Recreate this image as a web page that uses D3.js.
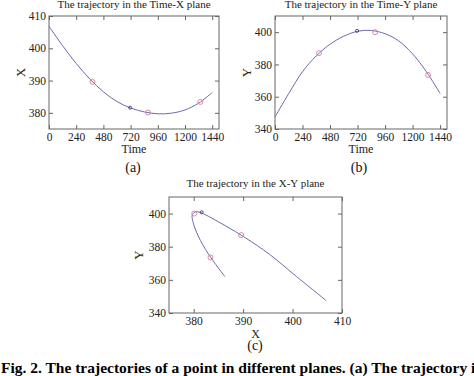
<!DOCTYPE html>
<meta charset="utf-8">
<style>
body { margin: 0; background: #fff; }
svg { display: block; font-family: "Liberation Serif", "Times New Roman", serif; }
.frame { fill: none; stroke: #666; stroke-width: 1; }
.axis path { display: none; }
.axis line { stroke: #666; }
.axis text { font-size: 11.5px; fill: #222; font-family: "Liberation Serif", serif; }
.traj { fill: none; stroke: #6a6aae; stroke-width: 1; }
</style>
<svg width="474" height="376"></svg>
<script src="https://cdn.jsdelivr.net/npm/d3@7"></script>
<script>

// sampled trajectory, time in minutes
var times = [0, 120, 240, 360, 480, 600, 720, 840, 960, 1080, 1200, 1320, 1440]
var xVals = [406.8, 400.8, 395.3, 390.5, 386.5, 383.5, 381.5, 380.3, 379.7, 379.9, 380.9, 383.0, 386.3]
var yVals = [347.5, 362.0, 375.5, 385.3, 392.5, 397.5, 400.5, 401.0, 399.0, 394.5, 386.5, 375.5, 362.0]

// marked points along the path
var markT = [384, 716, 873, 1335]
var markX = [389.6, 381.6, 380.1, 383.4]
var markY = [387.0, 400.8, 400.0, 373.5]
var markDark = [false, true, false, false]

var timeTicks = [0, 240, 480, 720, 960, 1200, 1440]
var xTicks = [380, 390, 400, 410]
var yTicksA = [380, 390, 400, 410]
var yTicksB = [340, 360, 380, 400]

var svg = d3.select("svg")

var pts = times.map(function(t, i) { return {t: t, x: xVals[i], y: yVals[i]} })
var marks = markT.map(function(t, i) { return {t: t, x: markX[i], y: markY[i], dark: markDark[i]} })

var panels = [
  {box: [49, 16, 219, 129], xd: [0, 1500], yd: [375, 410], xt: timeTicks, yt: yTicksA,
   fx: "t", fy: "x", title: "The trajectory in the Time-X plane", titleY: 8,
   xlab: "Time", xlabY: 153, ylab: "X", ylabX: 20, sub: "(a)", subX: 133, subY: 172},
  {box: [275, 16, 447, 129], xd: [0, 1500], yd: [340, 410], xt: timeTicks, yt: yTicksB,
   fx: "t", fy: "y", title: "The trajectory in the Time-Y plane", titleY: 8,
   xlab: "Time", xlabY: 153, ylab: "Y", ylabX: 246, sub: "(b)", subX: 359, subY: 172},
  {box: [169, 197, 342, 313], xd: [375, 410], yd: [340, 410], xt: xTicks, yt: yTicksB,
   fx: "x", fy: "y", title: "The trajectory in the X-Y plane", titleY: 187,
   xlab: "X", xlabY: 338, ylab: "Y", ylabX: 138, sub: "(c)", subX: 255, subY: 350}
]

panels.forEach(function(p) {
  var l = p.box[0], t = p.box[1], r = p.box[2], b = p.box[3]
  var x = d3.scaleLinear().domain(p.xd).range([l, r])
  var y = d3.scaleLinear().domain(p.yd).range([b, t])
  var g = svg.append("g")

  g.append("g").attr("class", "axis").attr("transform", "translate(0," + b + ")")
    .call(d3.axisBottom(x).tickValues(p.xt).tickFormat(d3.format("d")).tickSizeInner(-4).tickSizeOuter(0).tickPadding(4))
  g.append("g").attr("class", "axis").attr("transform", "translate(0," + t + ")")
    .call(d3.axisTop(x).tickValues(p.xt).tickSizeInner(-4).tickSizeOuter(0).tickFormat(""))
  g.append("g").attr("class", "axis").attr("transform", "translate(" + l + ",0)")
    .call(d3.axisLeft(y).tickValues(p.yt).tickFormat(d3.format("d")).tickSizeInner(-4).tickSizeOuter(0).tickPadding(3))
  g.append("g").attr("class", "axis").attr("transform", "translate(" + r + ",0)")
    .call(d3.axisRight(y).tickValues(p.yt).tickSizeInner(-4).tickSizeOuter(0).tickFormat(""))

  g.append("rect").attr("class", "frame")
    .attr("x", l).attr("y", t).attr("width", r - l).attr("height", b - t)

  var line = d3.line()
    .x(function(d) { return x(d[p.fx]) })
    .y(function(d) { return y(d[p.fy]) })
    .curve(d3.curveCatmullRom.alpha(0.5))

  g.append("path").datum(pts).attr("class", "traj").attr("d", line)

  g.selectAll("circle.mark").data(marks).enter().append("circle")
    .attr("class", "mark")
    .attr("cx", function(d) { return x(d[p.fx]) })
    .attr("cy", function(d) { return y(d[p.fy]) })
    .attr("r", function(d) { return d.dark ? 1.5 : 2.5 })
    .attr("fill", "none")
    .attr("stroke", function(d) { return d.dark ? "#3b3b7a" : "#d47fa0" })
    .attr("stroke-width", 0.9)

  g.append("text").attr("x", (l + r) / 2).attr("y", p.titleY)
    .attr("text-anchor", "middle").style("font-size", "11px").attr("fill", "#222")
    .text(p.title)
  g.append("text").attr("x", (l + r) / 2).attr("y", p.xlabY)
    .attr("text-anchor", "middle").style("font-size", "12px").attr("fill", "#222")
    .text(p.xlab)
  g.append("text").attr("transform", "translate(" + p.ylabX + "," + (t + b) / 2 + ") rotate(-90)")
    .attr("text-anchor", "middle").attr("dy", "0.35em").style("font-size", "13px").attr("fill", "#222")
    .text(p.ylab)
  g.append("text").attr("x", p.subX).attr("y", p.subY)
    .attr("text-anchor", "middle").style("font-size", "14px").attr("fill", "#111")
    .text(p.sub)
})

svg.append("text").attr("x", 1).attr("y", 373)
  .style("font-size", "15.5px").style("font-weight", "bold").attr("fill", "#000")
  .text("Fig. 2. The trajectories of a point in different planes. (a) The trajectory in the Time-X plane.")

</script>
